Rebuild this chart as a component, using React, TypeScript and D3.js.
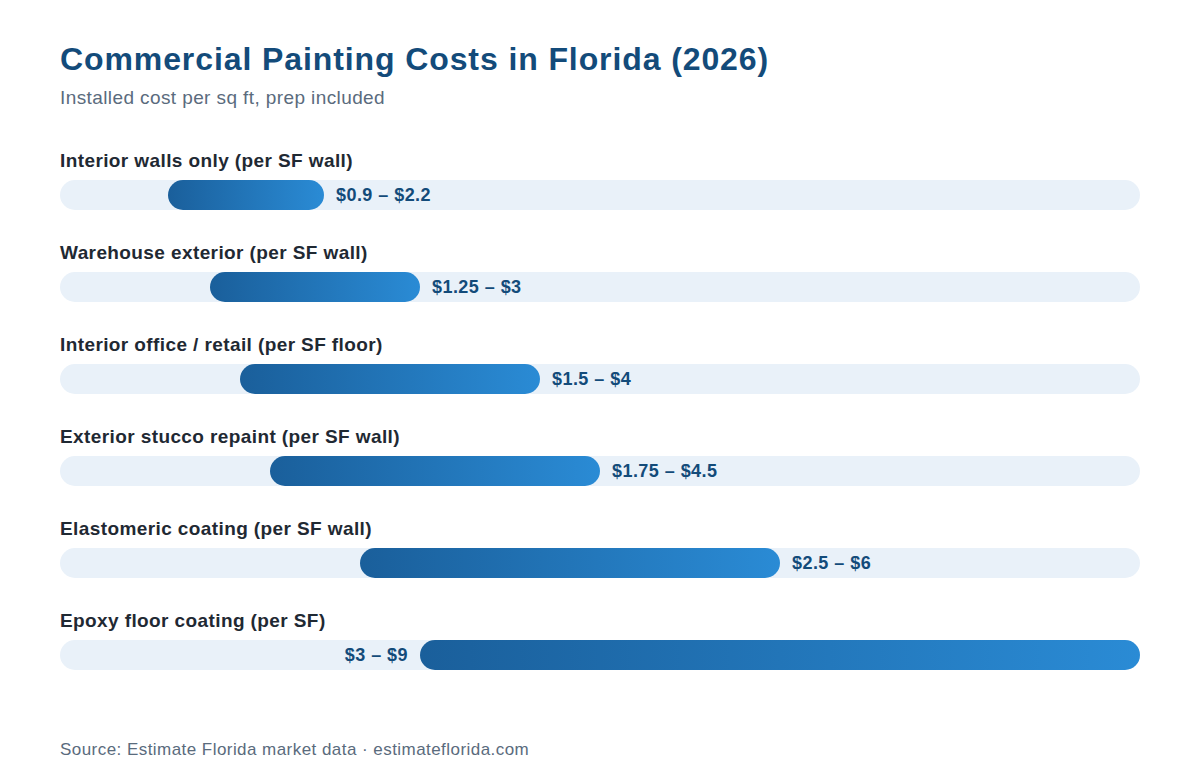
import React, { useEffect, useRef } from "react";
import * as d3 from "d3";

const categories = [
  "Interior walls only (per SF wall)",
  "Warehouse exterior (per SF wall)",
  "Interior office / retail (per SF floor)",
  "Exterior stucco repaint (per SF wall)",
  "Elastomeric coating (per SF wall)",
  "Epoxy floor coating (per SF)",
];
const lowValues = [0.9, 1.25, 1.5, 1.75, 2.5, 3];
const highValues = [2.2, 3, 4, 4.5, 6, 9];
const rangeLabels = ["$0.9 – $2.2", "$1.25 – $3", "$1.5 – $4", "$1.75 – $4.5", "$2.5 – $6", "$3 – $9"];

const W = 1200;
const H = 782;
const FONT = "'Liberation Sans', Arial, Helvetica, sans-serif";

const App: React.FC = () => {
  const ref = useRef<SVGSVGElement>(null);

  useEffect(() => {
    const svg = d3.select(ref.current);
    svg.selectAll("*").remove();

    const x = d3.scaleLinear().domain([0, 9]).range([60, 1140]);
    const y = d3.scaleBand<number>().domain(d3.range(categories.length)).range([150, 702]).paddingInner(0);
    const barH = 30;

    const defs = svg.append("defs");
    const grad = defs.append("linearGradient").attr("id", "barGrad").attr("x1", "0%").attr("x2", "100%");
    grad.append("stop").attr("offset", "0%").attr("stop-color", "#1a5f9b");
    grad.append("stop").attr("offset", "100%").attr("stop-color", "#2a8bd5");

    svg.append("text").attr("x", 60).attr("y", 70)
      .style("font", `bold 32px ${FONT}`).style("letter-spacing", "0.9px").attr("fill", "#134b7a")
      .text("Commercial Painting Costs in Florida (2026)");
    svg.append("text").attr("x", 60).attr("y", 104)
      .style("font", `19px ${FONT}`).style("letter-spacing", "0.4px").attr("fill", "#5a6b7d")
      .text("Installed cost per sq ft, prep included");

    const rows = svg.selectAll("g.row").data(categories).enter().append("g").attr("class", "row")
      .attr("transform", (_d, i) => `translate(0,${y(i)})`);

    rows.append("text").attr("x", 60).attr("y", 17)
      .style("font", `bold 19px ${FONT}`).style("letter-spacing", "0.4px").attr("fill", "#1f2933")
      .text((d) => d);

    rows.append("rect").attr("x", x(0)).attr("y", 30).attr("width", x(9) - x(0)).attr("height", barH)
      .attr("rx", barH / 2).attr("fill", "#e9f1f9");

    rows.append("rect")
      .attr("x", (_d, i) => x(lowValues[i]))
      .attr("y", 30)
      .attr("width", (_d, i) => x(highValues[i]) - x(lowValues[i]))
      .attr("height", barH).attr("rx", barH / 2).attr("fill", "url(#barGrad)");

    rows.append("text")
      .attr("x", (_d, i) => (x(highValues[i]) + 100 > x(9) ? x(lowValues[i]) - 12 : x(highValues[i]) + 12))
      .attr("text-anchor", (_d, i) => (x(highValues[i]) + 100 > x(9) ? "end" : "start"))
      .attr("y", 30 + barH / 2).attr("dy", "0.36em")
      .style("font", `bold 18px ${FONT}`).style("letter-spacing", "0.45px").attr("fill", "#134b7a")
      .text((_d, i) => rangeLabels[i]);

    svg.append("text").attr("x", 60).attr("y", 755)
      .style("font", `17px ${FONT}`).style("letter-spacing", "0.45px").attr("fill", "#5a6b7d")
      .text("Source: Estimate Florida market data · estimateflorida.com");
  }, []);

  return (
    <svg ref={ref} width={W} height={H} style={{ position: "absolute", left: 0, top: 0, background: "#fff" }} />
  );
};

export default App;
